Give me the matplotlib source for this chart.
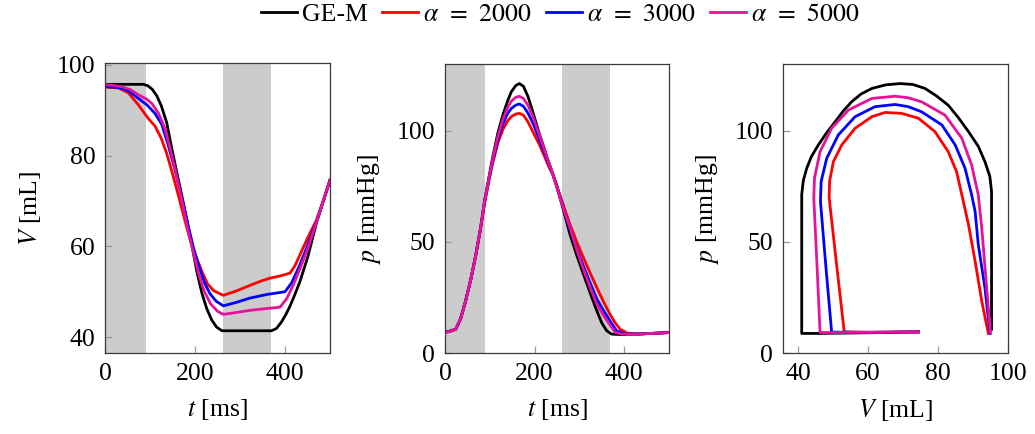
import matplotlib
matplotlib.use("Agg")
import matplotlib.pyplot as plt

plt.rcParams['font.family'] = ['Liberation Serif', 'DejaVu Serif']
plt.rcParams['mathtext.fontset'] = 'stix'
plt.rcParams['font.size'] = 18

# ---------------- data ----------------
series_labels = ['GE-M', r'$\alpha\;\,=\;\,2000$', r'$\alpha\;\,=\;\,3000$', r'$\alpha\;\,=\;\,5000$']
series_colors = ['black', '#ff0000', '#0000ff', '#e5129a']

# shaded phases (ms)
shade_spans = [(0, 90), (262, 368)]

# Volume vs time
t_V_gem = [0, 85, 95, 105, 115, 125, 137, 148, 159, 170, 181, 192, 204, 215, 226, 237, 248, 260,
           370, 381, 392, 402, 411, 422, 433, 451, 470, 485, 500]
V_gem = [95.7, 95.7, 95.4, 94.6, 93.2, 91.0, 87.3, 81.8, 76.5, 71.5, 66.2, 60.8, 54.5, 49.8, 46.3,
         43.8, 42.2, 41.4, 41.4, 41.9, 43.3, 45.0, 46.8, 49.4, 52.2, 57.8, 65.2, 69.9, 74.6]

t_V_a2000 = [0, 15, 30, 52, 74, 96, 111, 125, 137, 150, 165, 180, 192, 204, 216, 228, 242, 263,
             290, 322, 345, 367, 390, 411, 422, 433, 450, 470, 485, 500]
V_a2000 = [95.1, 95.0, 94.9, 93.8, 91.2, 88.2, 86.5, 83.8, 80.5, 76.0, 70.5, 64.8, 60.5, 57.3, 54.3,
           51.7, 50.2, 49.2, 50.1, 51.4, 52.3, 53.0, 53.5, 54.1, 55.7, 58.1, 61.8, 65.8, 70.0, 74.6]

t_V_a3000 = [0, 15, 30, 52, 74, 93, 111, 126, 140, 155, 170, 185, 197, 209, 221, 233, 247, 263,
             290, 322, 360, 400, 415, 433, 450, 470, 485, 500]
V_a3000 = [95.2, 95.1, 95.0, 94.3, 92.6, 91.2, 89.3, 86.9, 82.5, 77.0, 71.0, 64.5, 59.5, 55.5, 52.0,
           49.6, 47.9, 46.9, 47.6, 48.6, 49.4, 50.0, 52.0, 55.9, 60.2, 65.5, 70.0, 74.6]

t_V_a5000 = [0, 15, 37, 57, 74, 93, 104, 119, 133, 145, 158, 170, 183, 196, 208, 220, 235, 250, 263,
             290, 322, 360, 389, 404, 418, 433, 448, 470, 485, 500]
V_a5000 = [95.6, 95.5, 95.2, 94.5, 93.4, 92.4, 91.5, 89.3, 86.0, 81.5, 76.0, 70.5, 64.2, 58.8, 54.0,
           50.2, 47.3, 45.7, 45.0, 45.4, 45.9, 46.3, 46.6, 48.5, 51.4, 55.0, 58.8, 65.3, 70.0, 74.6]

# Pressure vs time
t_p_gem = [0, 10, 24, 35, 46, 58, 69, 80, 88, 98, 106, 118, 129, 140, 148, 158, 166, 175, 185, 196,
           210, 226, 241, 249, 264, 279, 294, 309, 324, 339, 350, 361, 372, 390, 420, 460, 500]
p_gem = [9.5, 9.8, 10.7, 15.5, 23.4, 33.5, 44.3, 57.0, 68.2, 79.0, 87.6, 99.0, 107.0, 113.5, 117.5,
         120.3, 121.2, 120.0, 115.5, 108.5, 99.0, 89.1, 80.2, 75.7, 64.5, 53.3, 44.0, 35.4, 27.0, 18.9,
         13.5, 10.0, 8.5, 8.3, 8.5, 8.8, 9.2]

t_p_a2000 = [0, 10, 24, 35, 46, 58, 69, 80, 88, 98, 106, 118, 129, 140, 148, 158, 166, 175, 185, 196,
             211, 222, 233, 241, 260, 279, 294, 309, 324, 339, 354, 368, 380, 391, 406, 430, 460, 500]
p_a2000 = [9.3, 9.6, 10.7, 15.5, 23.4, 33.5, 44.3, 56.5, 67.0, 77.5, 85.0, 94.5, 100.5, 104.5, 106.3,
           107.5, 107.8, 107.0, 104.0, 99.6, 93.6, 88.5, 83.2, 80.2, 69.0, 57.8, 50.0, 42.9, 36.0, 29.4,
           23.0, 17.5, 13.5, 10.7, 9.0, 8.5, 8.8, 9.2]

t_p_a3000 = [0, 10, 24, 35, 46, 58, 69, 80, 88, 98, 106, 118, 129, 140, 148, 158, 166, 175, 185, 196,
             211, 226, 241, 260, 279, 294, 309, 324, 339, 354, 368, 383, 398, 430, 460, 500]
p_a3000 = [9.4, 9.7, 10.7, 15.5, 23.4, 33.5, 44.3, 56.8, 67.5, 78.0, 86.0, 96.0, 103.0, 107.8, 110.0,
           111.5, 112.0, 111.0, 108.0, 103.5, 96.0, 88.0, 80.2, 68.0, 55.5, 47.0, 39.1, 31.5, 24.2,
           19.0, 14.5, 10.0, 8.8, 8.5, 8.8, 9.2]

t_p_a5000 = [0, 10, 24, 35, 46, 58, 69, 80, 88, 98, 106, 118, 129, 140, 148, 158, 166, 175, 185, 196,
             211, 226, 241, 260, 279, 294, 309, 324, 339, 354, 368, 379, 392, 430, 460, 500]
p_a5000 = [9.4, 9.7, 10.7, 15.5, 23.4, 33.5, 44.3, 56.9, 67.8, 78.5, 86.8, 97.5, 105.0, 110.5, 113.3,
           115.0, 115.5, 114.5, 111.5, 106.5, 98.0, 89.0, 80.2, 67.5, 56.5, 46.5, 37.6, 29.5, 21.9,
           16.8, 12.7, 9.3, 8.6, 8.5, 8.8, 9.2]

# Pressure-volume loops
V_loop_gem = [95.3, 95.3, 95.3, 94.8, 93.4, 91.5, 88.7, 85.8, 82.9, 79.5, 76.3, 72.8, 69.1, 65.0,
              61.1, 58.0, 55.3, 52.9, 50.6, 48.1, 45.8, 43.8, 42.5, 41.5, 41.05, 41.05, 41.05, 46.0,
              60.0, 74.4]
p_loop_gem = [10.7, 40.0, 72.7, 79.5, 86.1, 93.0, 99.6, 105.9, 111.5, 115.7, 119.0, 120.8, 121.2,
              120.6, 119.0, 116.5, 113.0, 108.8, 104.0, 98.9, 93.6, 88.3, 83.2, 77.5, 71.2, 40.0, 8.8,
              8.8, 9.1, 9.5]

V_loop_a2000 = [94.4, 93.5, 92.5, 90.6, 88.7, 86.8, 85.3, 82.9, 79.1, 74.4, 69.6, 64.9, 61.1, 56.3,
                52.5, 50.1, 49.0, 48.9, 51.0, 53.2, 60.0, 74.4]
p_loop_a2000 = [8.8, 15.5, 23.4, 41.3, 57.8, 71.2, 81.6, 90.6, 99.6, 105.6, 107.8, 108.2, 106.3,
                101.1, 93.6, 86.1, 77.2, 69.7, 40.0, 9.5, 9.3, 9.5]

V_loop_a3000 = [94.9, 94.2, 93.4, 91.5, 90.6, 89.6, 87.7, 84.9, 81.1, 75.3, 71.5, 67.7, 62.0, 56.3,
                51.5, 48.2, 46.6, 46.4, 48.0, 49.6, 60.0, 74.4]
p_loop_a3000 = [8.8, 18.0, 29.4, 48.8, 63.7, 71.2, 83.2, 93.6, 102.6, 108.5, 110.8, 111.8, 110.8,
                106.3, 98.1, 87.6, 77.2, 68.2, 38.0, 9.4, 9.3, 9.5]

V_loop_a5000 = [95.0, 94.5, 93.9, 93.2, 92.5, 91.5, 89.6, 86.8, 82.0, 75.3, 71.5, 67.7, 61.1, 54.4,
                49.6, 46.3, 44.7, 44.5, 45.4, 46.3, 60.0, 74.4]
p_loop_a5000 = [9.2, 18.0, 29.4, 43.0, 56.3, 71.2, 84.6, 96.6, 107.0, 113.0, 114.8, 115.5, 114.5,
                109.3, 101.1, 90.6, 78.7, 69.7, 40.0, 9.2, 9.3, 9.5]

V_series = [(t_V_gem, V_gem), (t_V_a2000, V_a2000), (t_V_a3000, V_a3000), (t_V_a5000, V_a5000)]
p_series = [(t_p_gem, p_gem), (t_p_a2000, p_a2000), (t_p_a3000, p_a3000), (t_p_a5000, p_a5000)]
pv_series = [(V_loop_gem, p_loop_gem), (V_loop_a2000, p_loop_a2000),
             (V_loop_a3000, p_loop_a3000), (V_loop_a5000, p_loop_a5000)]

# ---------------- figure ----------------
W, H = 1035, 434
fig = plt.figure(figsize=(W / 100, H / 100), dpi=100)

def ax_at(l, r, t, b):
    return fig.add_axes([l / W, 1 - b / H, (r - l) / W, (b - t) / H])

ax1 = ax_at(105, 330, 63, 353)
ax2 = ax_at(445, 669, 64, 353)
ax3 = ax_at(783, 1008, 64, 353)

lw = 2.0
for ax in (ax1, ax2, ax3):
    for s in ax.spines.values():
        s.set_color('#3a3a3a')
        s.set_linewidth(0.9)
    ax.tick_params(direction='in', length=5, width=0.9, color='#9a9a9a',
                   top=False, right=False, labelsize=18.5, pad=7)

for ax in (ax1, ax2):
    for a, b in shade_spans:
        ax.axvspan(a, b, color='#cccccc', lw=0, zorder=0)

handles = []
for (t, v), c, lab in zip(V_series, series_colors, series_labels):
    h, = ax1.plot(t, v, color=c, lw=lw, label=lab, solid_joinstyle='round')
    handles.append(h)
for (t, p), c in zip(p_series, series_colors):
    ax2.plot(t, p, color=c, lw=lw, solid_joinstyle='round')
for (v, p), c in zip(pv_series, series_colors):
    ax3.plot(v, p, color=c, lw=lw, solid_joinstyle='round')

ax1.set_xlim(0, 500)
ax1.set_ylim(36.5, 100.4)
ax1.set_xticks([0, 200, 400])
ax1.set_yticks([40, 60, 80, 100])

ax2.set_xlim(0, 500)
ax2.set_ylim(0, 130)
ax2.set_xticks([0, 200, 400])
ax2.set_yticks([0, 50, 100])

ax3.set_xlim(35.7, 100)
ax3.set_ylim(0, 130)
ax3.set_xticks([40, 60, 80, 100])
ax3.set_yticks([0, 50, 100])

ax1.set_xlabel(r'$t$ [ms]', labelpad=9, fontsize=18.5)
ax2.set_xlabel(r'$t$ [ms]', labelpad=9, fontsize=18.5)
ax3.set_xlabel(r'$V$ [mL]', labelpad=9, fontsize=18.5)
ax1.set_ylabel(r'$V$ [mL]', labelpad=10, fontsize=18.5)
ax2.set_ylabel(r'$p$ [mmHg]', labelpad=10, fontsize=18.5)
ax3.set_ylabel(r'$p$ [mmHg]', labelpad=10, fontsize=18.5)

fig.legend(handles=handles, labels=series_labels, loc='center',
           bbox_to_anchor=(560 / W, 1 - 15 / H), ncol=4, frameon=False,
           handlelength=1.4, handletextpad=0.2, columnspacing=0.55, fontsize=18.5,
           borderaxespad=0, borderpad=0)

fig.savefig('out.png', dpi=100)
